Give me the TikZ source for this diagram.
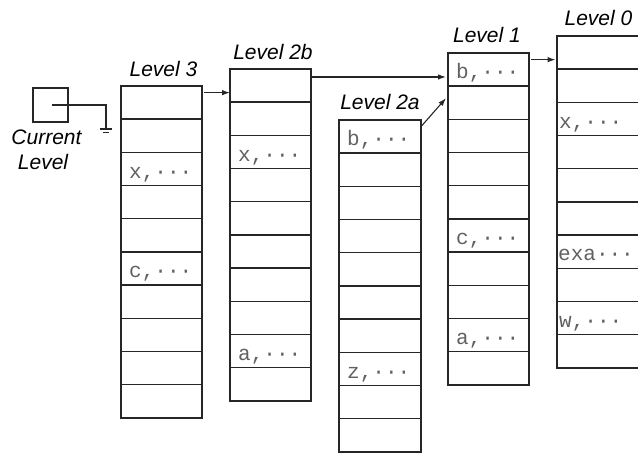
\documentclass[tikz,border=0pt]{standalone}
\usepackage{fontspec}
\setmainfont{Liberation Sans}
\newfontfamily\monofont{Liberation Mono}
\usetikzlibrary{arrows.meta,calc}
\begin{document}
\begin{tikzpicture}[x=1pt,y=-1pt,
  cell/.style={draw=black!85, line width=1.4pt, minimum height=33.2pt, inner sep=0pt, outer sep=0pt, anchor=north west},
  entry/.style={anchor=base west, inner sep=0pt, text=black!62, font=\monofont\fontsize{21}{21}\selectfont},
  lbl/.style={anchor=base, inner sep=0pt, font=\itshape\fontsize{21}{25}\selectfont},
  arr/.style={draw=black!85, line width=1.1pt, -{Latex[length=8pt,width=5.5pt]}},
  wire/.style={draw=black!85, line width=1.1pt}]
\clip (0,0) rectangle (638,454);
% columns
\foreach \n/\x/\y/\w in {L3/121/86/81, L2b/230/69/81, L2a/339/120/82, L1/448/53/81, L0/557/36/95}
  \foreach \i in {1,...,10}
    \node[cell, minimum width=\w pt] (\n-\i) at (\x, {\y+(\i-1)*33.2}) {};
% entries
\node[entry] (e3x) at ($(L3-3.south west)+(8,-7.5)$) {x,···};
\node[entry] (e3c) at ($(L3-6.south west)+(8,-7.5)$) {c,···};
\node[entry] (e2bx) at ($(L2b-3.south west)+(8,-7.5)$) {x,···};
\node[entry] (e2ba) at ($(L2b-9.south west)+(8,-7.5)$) {a,···};
\node[entry] (e2ab) at ($(L2a-1.south west)+(8,-7.5)$) {b,···};
\node[entry] (e2az) at ($(L2a-8.south west)+(8,-7.5)$) {z,···};
\node[entry] (e1b) at ($(L1-1.south west)+(8,-7.5)$) {b,···};
\node[entry] (e1c) at ($(L1-6.south west)+(8,-7.5)$) {c,···};
\node[entry] (e1a) at ($(L1-9.south west)+(8,-7.5)$) {a,···};
\node[entry] (e0x) at ($(L0-3.south west)+(2,-7.5)$) {x,···};
\node[entry] (e0e) at ($(L0-7.south west)+(1,-7.5)$) {exa···};
\node[entry] (e0w) at ($(L0-9.south west)+(2,-7.5)$) {w,···};
% labels
\node[lbl] (lab3) at (163.5,77) {Level 3};
\node[lbl] (lab2b) at (273,60) {Level 2b};
\node[lbl] (lab2a) at (380,110) {Level 2a};
\node[lbl] (lab1) at (487,43) {Level 1};
\node[lbl] (lab0) at (598.5,26) {Level 0};
\node[lbl] (curl1) at (46.5,145) {Current};
\node[lbl] (curl2) at (43,170) {Level};
% current level box and ground
\node[draw=black!85, line width=1.1pt, minimum width=35pt, minimum height=34pt, inner sep=0pt] (cur) at (50.5,105) {};
\coordinate (gnd) at (106,129);
\draw[wire] ($(cur.center)+(1.5,0)$) -| (gnd);
\draw[wire] ($(gnd)+(-6,0)$) -- ($(gnd)+(6,0)$);
\draw[wire] ($(gnd)+(-3,3.5)$) -- ($(gnd)+(3,3.5)$);
% arrows
\coordinate (a1) at ($(L3-1.north east)!0.2!(L3-1.south east)+(2,0)$);
\draw[arr] (a1) -- (a1 -| L2b-1.west);
\coordinate (a2) at ($(L2b-1.north east)!0.24!(L2b-1.south east)$);
\draw[arr] (a2) -- ($(a2 -| L1-1.west)+(-2,0)$);
\coordinate (a3) at ($(L2a-1.north east)!0.2!(L2a-1.south east)$);
\draw[arr] (a3) -- ($(L1-2.north west)!0.36!(L1-2.south west)+(-2,0)$);
\coordinate (a4) at ($(L1-1.north east)!0.2!(L1-1.south east)+(2,0)$);
\draw[arr] (a4) -- ($(a4 -| L0-1.west)+(-1.5,0)$);
\end{tikzpicture}
\end{document}
